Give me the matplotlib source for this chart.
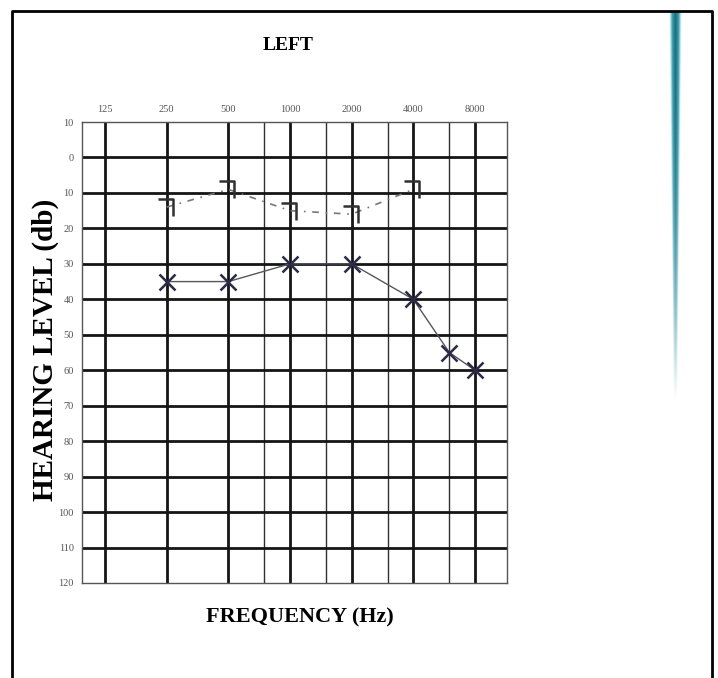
import matplotlib
matplotlib.use('Agg')
import matplotlib.pyplot as plt
import numpy as np
from matplotlib.path import Path

# audiogram data (left ear)
freq_labels = ['125', '250', '500', '1000', '2000', '4000', '8000']
octave_freqs = [125, 250, 500, 1000, 2000, 4000, 8000]
half_octave_freqs = [750, 1500, 3000, 6000]
level_ticks = [-10, 0, 10, 20, 30, 40, 50, 60, 70, 80, 90, 100, 110, 120]
level_labels = ['10', '0', '10', '20', '30', '40', '50', '60', '70', '80', '90', '100', '110', '120']

air_freqs = [250, 500, 1000, 2000, 4000, 6000, 8000]
air_levels = [35, 35, 30, 30, 40, 55, 60]

bone_freqs = [250, 500, 1000, 2000, 4000]
bone_levels = [14, 9, 15, 16, 9]

W, H = 718, 678
fig = plt.figure(figsize=(W / 100, H / 100), dpi=100)
fig.patch.set_facecolor('white')

ax = fig.add_axes([82 / W, 1 - 583 / H, (507 - 82) / W, (583 - 122) / H])
ax.set_xscale('log', base=2)
ax.set_xlim(125 * 2 ** -0.373, 125 * 2 ** 6.52)
ax.set_ylim(120, -10)

for f in octave_freqs:
    ax.axvline(f, color='#151515', lw=2.0, zorder=1)
for f in half_octave_freqs:
    ax.axvline(f, color='#303030', lw=1.0, zorder=1)
for lv in level_ticks[1:-1]:
    ax.axhline(lv, color='#151515', lw=2.0, zorder=1)
for s in ax.spines.values():
    s.set_color('#555555')
    s.set_linewidth(1.0)

ax.xaxis.set_ticks_position('top')
ax.set_xticks(octave_freqs)
ax.set_xticklabels(freq_labels)
ax.xaxis.set_minor_locator(matplotlib.ticker.NullLocator())
ax.set_yticks(level_ticks)
ax.set_yticklabels(level_labels)
ax.tick_params(length=0, labelsize=7.5, labelcolor='#555555', pad=6)
for t in ax.get_xticklabels() + ax.get_yticklabels():
    t.set_family('Liberation Serif')

# air conduction (X)
ax.plot(air_freqs, air_levels, color='#555560', lw=1.0, zorder=3)
ax.plot(air_freqs, air_levels, ls='none', marker='x', ms=12, mew=1.8,
        color='#2b2b48', zorder=4)

# bone conduction (bracket)
bracket = Path([(-0.6, 0.5), (0.4, 0.5), (0.4, -0.6)],
               [Path.MOVETO, Path.LINETO, Path.LINETO])
ax.plot(bone_freqs, bone_levels, color='#777777', lw=1.2,
        ls=(0, (4, 4, 1, 4)), zorder=3)
ax.plot(bone_freqs, bone_levels, ls='none', marker=bracket, ms=13, mew=1.8,
        mfc='none', color='#303030', zorder=4)

fig.text(288 / W, 1 - 45 / H, 'LEFT', ha='center', va='center',
         family='Liberation Serif', weight='bold', fontsize=14)
fig.text(300 / W, 1 - 617 / H, 'FREQUENCY (Hz)', ha='center', va='center',
         family='Liberation Serif', weight='bold', fontsize=16)
fig.text(45 / W, 1 - 350 / H, 'HEARING LEVEL (db)', ha='center', va='center',
         rotation=90, family='Liberation Serif', weight='bold', fontsize=21)

# page frame and the teal strip at the right
over = fig.add_axes([0, 0, 1, 1], zorder=-1)
over.axis('off')
over.plot([12, 12, 712, 712], [H, 11, 11, H], color='black', lw=2.0)

rows = np.linspace(0, 1, 200)[:, None]
cols = np.linspace(-1, 1, 40)[None, :]
width = 1.0 - 0.7 * rows
core = np.clip(1 - np.abs(cols) / width, 0, 1)
fade = np.clip(1 - rows ** 2.5, 0, 1)
alpha = np.clip(core * 2.2, 0, 1) * fade
img = np.zeros((200, 40, 4))
img[..., 0] = 0.10 + 0.3 * (1 - core)
img[..., 1] = 0.42 + 0.4 * (1 - core)
img[..., 2] = 0.48 + 0.4 * (1 - core)
img[..., 3] = alpha
over.imshow(img, extent=(669, 682, 400, 12), aspect='auto', interpolation='bilinear')
over.set_xlim(0, W)
over.set_ylim(H, 0)

fig.savefig('out.png', dpi=100, facecolor='white')
